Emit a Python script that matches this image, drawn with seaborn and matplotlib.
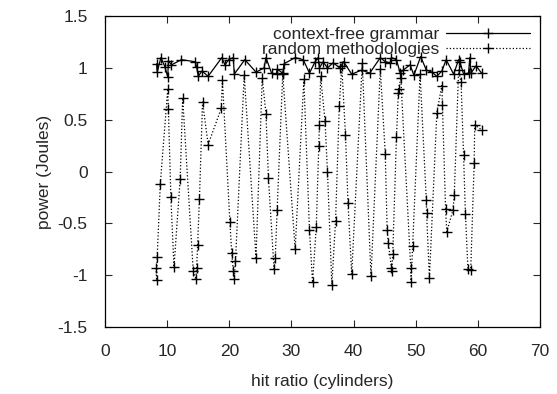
import matplotlib
matplotlib.use("Agg")
import matplotlib.pyplot as plt
from matplotlib.ticker import FuncFormatter
import seaborn as sns

sns.set_style("ticks")
plt.rcParams["font.family"] = ["Liberation Sans", "DejaVu Sans"]

# context-free grammar (solid)
cfg_x = [8.3, 8.4, 9.0, 9.65, 10.1, 10.2, 10.7, 12.3, 14.5, 14.75, 15.0, 15.6,
         16.6, 18.8, 19.3, 19.9, 20.65, 20.8, 22.5, 24.3, 25.6, 25.9, 26.8,
         27.6, 27.7, 28.6, 28.8, 30.6, 31.9, 32.9, 33.8, 34.3, 34.5, 35.1,
         35.8, 36.7, 37.8, 38.4, 39.7, 41.3, 42.6, 44.3, 45.1, 45.9, 46.1,
         46.9, 47.5, 48.0, 49.1, 49.7, 50.8, 51.7, 52.6, 53.4, 54.2, 54.9,
         56.1, 56.9, 57.1, 57.7, 58.5, 58.7, 58.9, 59.7, 60.6]
cfg_y = [1.04, 0.96, 1.10, 1.01, 0.91, 1.07, 1.03, 1.08, 1.06, 1.01, 0.92, 0.97,
         0.92, 1.10, 1.03, 1.08, 1.10, 0.94, 1.08, 0.96, 1.00, 1.10, 0.95,
         0.94, 0.99, 0.95, 1.04, 1.10, 1.08, 0.95, 1.06, 1.10, 1.00, 1.06,
         1.00, 1.05, 1.00, 1.06, 0.94, 0.98, 0.95, 1.10, 1.06, 1.05, 1.10,
         1.08, 0.95, 0.98, 1.03, 0.93, 1.11, 0.98, 0.96, 0.92, 0.97, 1.08,
         0.94, 1.08, 1.06, 0.94, 0.95, 1.10, 0.95, 1.02, 0.95]

# random methodologies (dotted)
rm_x = [8.2, 8.3, 8.4, 8.9, 10.1, 10.2, 10.6, 11.1, 12.1, 12.5, 14.2, 14.6,
        14.75, 14.9, 15.2, 15.7, 16.6, 18.7, 18.9, 20.1, 20.4, 20.65, 20.8,
        21.0, 22.4, 24.3, 25.3, 25.9, 26.3, 27.2, 27.4, 27.7, 28.6, 30.6,
        32.0, 32.9, 33.4, 34.0, 34.4, 34.5, 34.7, 35.4, 35.8, 36.5, 37.1,
        37.7, 38.1, 38.7, 39.1, 39.7, 41.4, 42.8, 44.3, 45.1, 45.4, 45.6,
        46.1, 46.15, 46.3, 46.9, 47.2, 47.25, 47.6, 49.2, 49.25, 49.5, 50.7,
        51.7, 51.75, 52.2, 53.4, 54.2, 54.3, 54.8, 55.0, 56.0, 56.2, 56.9,
        57.3, 57.7, 58.0, 58.4, 58.85, 59.4, 59.5, 60.7]
rm_y = [-0.93, -1.05, -0.82, -0.12, 0.80, 0.60, -0.25, -0.92, -0.07, 0.71,
        -0.96, -1.04, -0.93, -0.71, -0.26, 0.67, 0.26, 0.61, 0.88, -0.49,
        -0.79, -0.96, -1.04, -0.86, 0.93, -0.83, 0.90, 0.56, -0.06, -0.94,
        -0.83, -0.37, 0.94, -0.75, 0.89, -0.56, -1.07, -0.53, 0.25, 0.45,
        0.92, 0.49, 0.00, -1.09, -0.48, 0.63, 1.02, 0.35, -0.30, -0.99, 1.05,
        -1.01, 0.99, 0.17, -0.56, -0.69, -0.93, -0.96, -0.80, 0.33, 0.76,
        0.80, 0.90, -0.93, -1.07, -0.72, 0.94, -0.27, -0.40, -1.03, 0.57,
        0.83, 0.64, -0.36, -0.58, -0.37, -0.23, 0.98, 0.86, 0.16, -0.41,
        -0.94, -0.95, 0.08, 0.45, 0.40]

fig = plt.figure(figsize=(5.57, 3.94), dpi=100)
ax = fig.add_axes([0.1885, 0.170, 0.781, 0.789])

line_kw = dict(color="black", marker="+", markersize=6.5, markeredgewidth=1,
               markeredgecolor="black", markerfacecolor="black", linewidth=0.9,
               sort=False)
sns.lineplot(x=cfg_x, y=cfg_y, ax=ax, label="context-free grammar", **line_kw)
sns.lineplot(x=rm_x, y=rm_y, ax=ax, linestyle=":", label="random methodologies",
             **line_kw)

ax.set_xlim(0, 70)
ax.set_ylim(-1.5, 1.5)
ax.set_xticks(range(0, 71, 10))
ax.set_yticks([-1.5, -1, -0.5, 0, 0.5, 1, 1.5])
ax.yaxis.set_major_formatter(FuncFormatter(lambda v, p: "%g" % v))
ax.tick_params(direction="in", top=True, right=True, labelsize=12.5,
               length=5, width=0.8, pad=12.5)
for s in ax.spines.values():
    s.set_linewidth(0.9)
    s.set_color("black")

ax.set_xlabel("hit ratio (cylinders)", fontsize=12.5, labelpad=10.5)
ax.set_ylabel("power (Joules)", fontsize=12.5, labelpad=4)

ax.legend(loc="upper right", frameon=False, markerfirst=False, fontsize=12.5,
          handlelength=4.8, handletextpad=0.4, labelspacing=0.0,
          borderpad=0.0, borderaxespad=0.6)

fig.savefig("out.png", dpi=100)
